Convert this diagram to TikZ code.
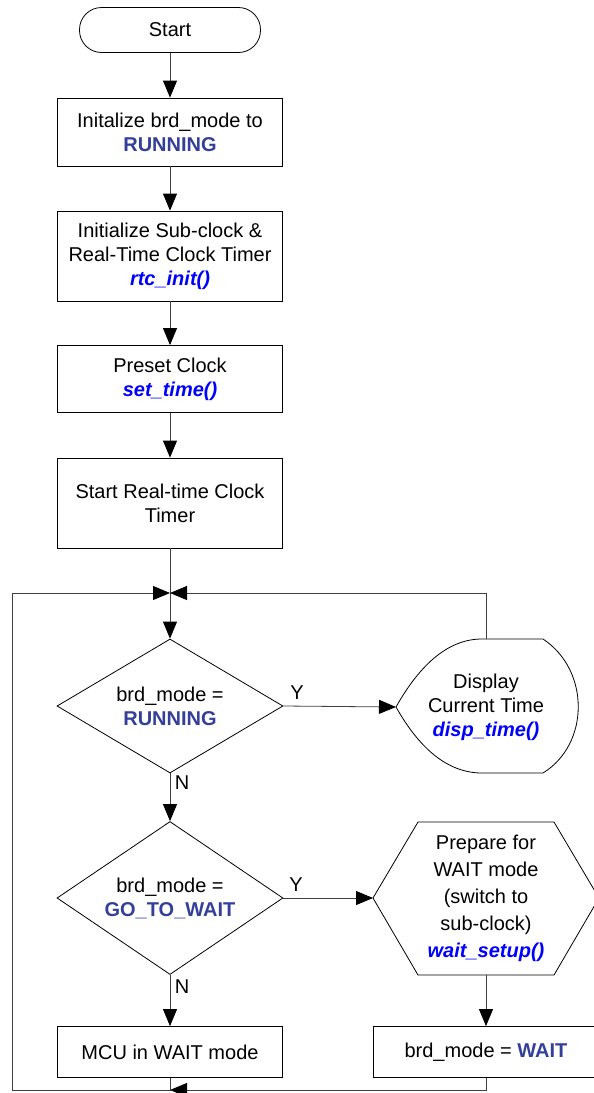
\documentclass[tikz,border=0pt]{standalone}
\usepackage{fontspec}
\setmainfont{Liberation Sans}
\usetikzlibrary{arrows.meta,shapes.geometric}
\definecolor{navy}{RGB}{51,63,153}
\definecolor{fblue}{RGB}{0,0,255}
\newcommand{\cst}[1]{\textcolor{navy}{\bfseries #1}}
\newcommand{\fnc}[1]{\textcolor{fblue}{\bfseries\itshape #1}}
\tikzset{
  base/.style={font=\fontsize{20}{24}\selectfont, align=center, inner sep=0pt},
  procbox/.style={base, draw, line width=0.8pt, minimum width=225pt},
  decision/.style={base, draw, diamond, aspect=1.7, line width=0.8pt, minimum width=226pt, minimum height=134pt},
  conn/.style={line width=0.8pt, draw=black!75},
  arr/.style={conn, -{Triangle[length=17pt,width=14pt,color=black,fill=black]}},
  lbl/.style={font=\fontsize{20}{24}\selectfont, inner sep=0pt}
}
\begin{document}
\begin{tikzpicture}[x=1pt,y=-1pt]
\useasboundingbox (0,0) rectangle (594,1093);
% main column
\node[base, draw, line width=0.8pt, rounded corners=22pt, minimum width=181pt, minimum height=45pt] (start) at (170,30) {Start};
\node[procbox, minimum height=68pt] (b1) at (170,132) {Initalize brd\_mode to\\\cst{RUNNING}};
\node[procbox, minimum height=90pt] (b2) at (170,256) {Initialize Sub-clock \&\\Real-Time Clock Timer\\\fnc{rtc\_init()}};
\node[procbox, minimum height=67pt] (b3) at (170,379) {Preset Clock\\\fnc{set\_time()}};
\node[procbox, minimum height=90pt] (b4) at (170,503) {Start Real-time Clock\\Timer};
\node[decision] (d1) at (170,706) {brd\_mode =\\\cst{RUNNING}};
\node[decision, minimum height=153pt] (d2) at (170,898) {brd\_mode =\\\cst{GO\_TO\_WAIT}};
\node[procbox, minimum height=51pt] (mcu) at (170,1052) {MCU in WAIT mode};
% display shape
\node[base] (disp) at (486,707) {Display\\Current Time\\\fnc{disp\_time()}};
\draw[line width=0.8pt] (396,707) .. controls (418,668) and (446,639) .. (482,639) -- (543,639)
  .. controls (590,670) and (590,744) .. (543,773) -- (482,773)
  .. controls (446,773) and (418,746) .. (396,707) -- cycle;
\coordinate (dispL) at (396,707);
\coordinate (dispT) at (486,639);
% hexagon
\node[base, font=\fontsize{20}{27}\selectfont] (hex) at (486,898) {Prepare for\\WAIT mode\\(switch to\\sub-clock)\\\fnc{wait\_setup()}};
\draw[line width=0.8pt] (373,898) -- (418,822) -- (554,822) -- (599,898) -- (554,975) -- (418,975) -- cycle;
\coordinate (hexL) at (373,898);
\coordinate (hexB) at (486,975);
\node[procbox, minimum height=51pt] (wait) at (486,1052) {brd\_mode = \cst{WAIT}};
% junction coordinates
\coordinate (j) at (170,593);
\coordinate (jl) at (12,593);
\coordinate (jr) at (486,593);
\coordinate (bl) at (12,1090);
\coordinate (bm) at (170,1090);
\coordinate (br) at (486,1090);
% connectors
\draw[arr] (start) -- (b1);
\draw[arr] (b1) -- (b2);
\draw[arr] (b2) -- (b3);
\draw[arr] (b3) -- (b4);
\draw[arr] (b4) -- (d1);
\draw[arr] (jl) -- (j);
\draw[arr] (dispT) -- (jr) -- (j);
\draw[arr] (d1.east) -- (dispL);
\draw[arr] (d1.south) -- (d2.north);
\draw[arr] (d2.east) -- (hexL);
\draw[arr] (d2.south) -- (mcu.north);
\draw[arr] (hexB) -- (wait.north);
\draw[conn] (mcu.south) -- (bm) -- (bl) -- (jl);
\draw[arr] (wait.south) -- (br) -- (bm);
% labels
\node[lbl] (y1) at (297,693) {Y};
\node[lbl] (n1) at (182,783) {N};
\node[lbl] (y2) at (296,885) {Y};
\node[lbl] (n2) at (182,987) {N};
\end{tikzpicture}
\end{document}
